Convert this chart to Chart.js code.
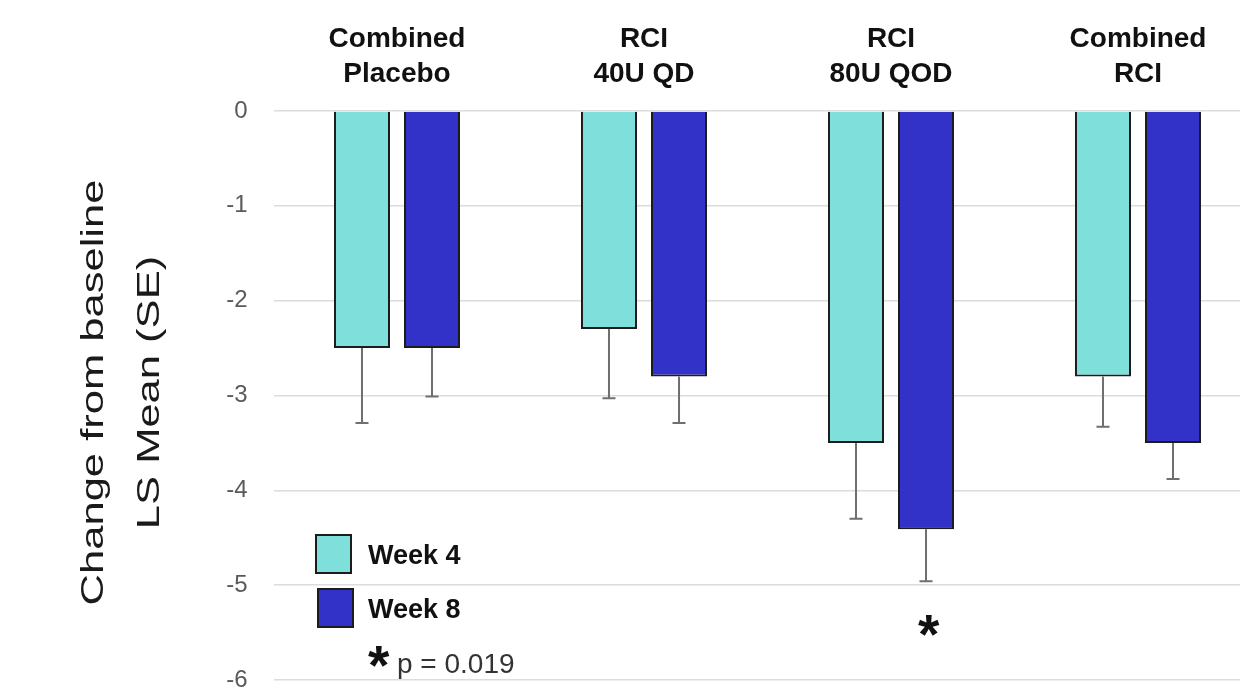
<!DOCTYPE html>
<html>
<head>
<meta charset="utf-8">
<script src="https://cdn.jsdelivr.net/npm/chart.js@4/dist/chart.umd.min.js"></script>
<style>
  html, body { margin: 0; padding: 0; background: #ffffff; overflow: hidden; }
  #wrap { width: 1275px; height: 699px; position: relative; }
</style>
</head>
<body>
<div id="wrap"><canvas id="chart"></canvas></div>
<script>
// Treatment groups (two-line labels shown above the bars)
const categories = [
  ['Combined', 'Placebo'],
  ['RCI', '40U QD'],
  ['RCI', '80U QOD'],
  ['Combined', 'RCI']
];

// LS mean change from baseline and its standard error
const week4Mean = [-2.5, -2.3, -3.5, -2.8];
const week4SE   = [0.79, 0.73, 0.80, 0.53];
const week8Mean = [-2.5, -2.8, -4.41, -3.5];
const week8SE   = [0.51, 0.49, 0.55, 0.38];

// Groups flagged as significant at week 8
const week8Significant = [false, false, true, false];
const pValueNote = 'p = 0.019';

// Value axis
const yMin = -6;
const yMax = 0;
const yStep = 1;

const yTitleLines = ['Change from baseline', 'LS Mean (SE)'];

const WEEK4_COLOR = '#7fdfdb';
const WEEK8_COLOR = '#3232c8';
const BORDER_COLOR = '#1c1c1c';
const FONT = '"Liberation Sans", Arial, Helvetica, sans-serif';

// Draws a star glyph with its ink centred on (cx, cy), scaled to a given ink width
function drawStar(ctx, cx, cy, inkWidth) {
  ctx.save();
  let size = 50;
  ctx.font = 'bold ' + size + 'px ' + FONT;
  let m = ctx.measureText('*');
  let w = m.actualBoundingBoxLeft + m.actualBoundingBoxRight;
  if (w > 0) size = size * inkWidth / w;
  ctx.font = 'bold ' + size + 'px ' + FONT;
  m = ctx.measureText('*');
  const left = m.actualBoundingBoxLeft, right = m.actualBoundingBoxRight;
  const asc = m.actualBoundingBoxAscent, desc = m.actualBoundingBoxDescent;
  ctx.fillStyle = '#111111';
  ctx.textAlign = 'left';
  ctx.textBaseline = 'alphabetic';
  const x = cx - (right - left) / 2;
  const y = cy + (asc - desc) / 2;
  ctx.fillText('*', x, y);
  ctx.restore();
}

// One-sided (away from zero) error bars, significance marks, legend and axis title
const annotations = {
  id: 'annotations',
  afterDatasetsDraw(chart) {
    const ctx = chart.ctx;
    const yScale = chart.scales.y;
    const seSets = [week4SE, week8SE];

    ctx.save();
    ctx.strokeStyle = '#6f6f6f';
    ctx.lineWidth = 2;
    chart.data.datasets.forEach((ds, di) => {
      const meta = chart.getDatasetMeta(di);
      meta.data.forEach((bar, i) => {
        const v = ds.data[i];
        const end = v - seSets[di][i];
        const y0 = yScale.getPixelForValue(v);
        const y1 = yScale.getPixelForValue(end);
        ctx.beginPath();
        ctx.moveTo(bar.x, y0);
        ctx.lineTo(bar.x, y1);
        ctx.moveTo(bar.x - 6.5, y1);
        ctx.lineTo(bar.x + 6.5, y1);
        ctx.stroke();
      });
    });
    ctx.restore();

    // significance stars below the week 8 error bars
    const meta8 = chart.getDatasetMeta(1);
    week8Significant.forEach((sig, i) => {
      if (!sig) return;
      const bar = meta8.data[i];
      const yEnd = yScale.getPixelForValue(week8Mean[i] - week8SE[i]);
      drawStar(ctx, bar.x + 3, yEnd + 44, 22);
    });

    // legend
    const boxes = [
      { x: 316, y: 535, w: 35, h: 38, textY: 564 },
      { x: 318, y: 589, w: 35, h: 38, textY: 618 }
    ];
    ctx.save();
    chart.data.datasets.forEach((ds, di) => {
      const b = boxes[di];
      ctx.fillStyle = ds.backgroundColor;
      ctx.fillRect(b.x, b.y, b.w, b.h);
      ctx.strokeStyle = BORDER_COLOR;
      ctx.lineWidth = 2;
      ctx.strokeRect(b.x, b.y, b.w, b.h);
      ctx.fillStyle = '#111111';
      ctx.font = 'bold 27px ' + FONT;
      ctx.textAlign = 'left';
      ctx.textBaseline = 'alphabetic';
      ctx.fillText(ds.label, 368, b.textY);
    });
    ctx.restore();

    drawStar(ctx, 379, 656, 22);
    ctx.save();
    ctx.fillStyle = '#333333';
    ctx.font = '28px ' + FONT;
    ctx.textAlign = 'left';
    ctx.textBaseline = 'alphabetic';
    ctx.fillText(pValueNote, 397, 673);
    ctx.restore();

    // value axis title, two rotated lines
    ctx.save();
    ctx.fillStyle = '#1a1a1a';
    ctx.font = '32px ' + FONT;
    ctx.textAlign = 'center';
    ctx.textBaseline = 'alphabetic';
    const titleCenterY = (yScale.top + yScale.bottom) / 2 - 3;
    const baselines = [103, 159];
    yTitleLines.forEach((line, li) => {
      ctx.save();
      ctx.translate(baselines[li], titleCenterY);
      ctx.rotate(-Math.PI / 2);
      ctx.scale(1.36, 1);
      ctx.fillText(line, 0, 0);
      ctx.restore();
    });
    ctx.restore();
  }
};

new Chart(document.getElementById('chart'), {
  type: 'bar',
  data: {
    labels: categories,
    datasets: [
      {
        label: 'Week 4',
        data: week4Mean,
        backgroundColor: WEEK4_COLOR,
        borderColor: BORDER_COLOR,
        borderWidth: 2
      },
      {
        label: 'Week 8',
        data: week8Mean,
        backgroundColor: WEEK8_COLOR,
        borderColor: BORDER_COLOR,
        borderWidth: 2
      }
    ]
  },
  options: {
    responsive: true,
    maintainAspectRatio: false,
    animation: false,
    layout: { padding: { left: 0, right: 13.5, top: 0, bottom: 19 } },
    datasets: {
      bar: { categoryPercentage: 0.567, barPercentage: 0.8 }
    },
    plugins: {
      legend: { display: false },
      tooltip: { enabled: false }
    },
    scales: {
      x: {
        position: 'top',
        grid: { display: false, drawTicks: false },
        border: { display: false },
        ticks: {
          color: '#111111',
          font: { family: FONT, size: 28, weight: 'bold', lineHeight: 1.23 },
          padding: 19.75,
          maxRotation: 0,
          autoSkip: false
        },
        afterFit(scale) {
          scale.height = 111;
          scale.paddingLeft = 0;
          scale.paddingRight = 0;
        }
      },
      y: {
        min: yMin,
        max: yMax,
        grid: { color: '#dcdcdc', lineWidth: 1.5, drawTicks: false },
        border: { display: false },
        ticks: {
          stepSize: yStep,
          color: '#5a5a5a',
          font: { family: FONT, size: 24 },
          padding: 26
        },
        afterFit(scale) {
          scale.width = 273.5;
          scale.paddingTop = 0;
          scale.paddingBottom = 0;
        }
      }
    }
  },
  plugins: [annotations]
});
</script>
</body>
</html>
